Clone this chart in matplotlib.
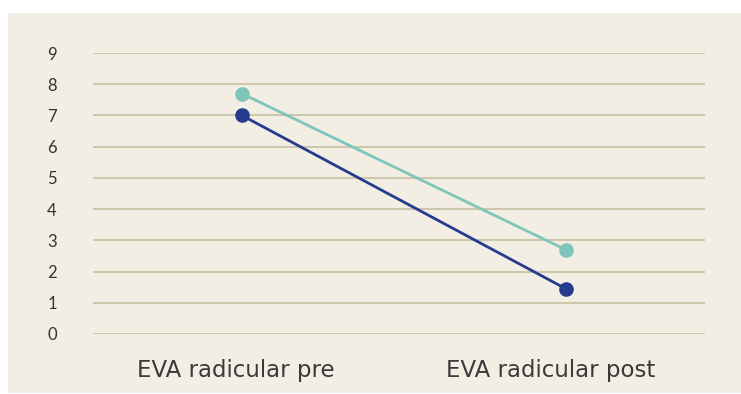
import matplotlib.pyplot as plt
import matplotlib.transforms as mtransforms
from matplotlib.patches import Rectangle

categories = ['EVA radicular pre', 'EVA radicular post']
serie_a = [7.7, 2.7]   # teal
serie_b = [7.0, 1.45]  # navy

W, H = 741, 394
fig = plt.figure(figsize=(W / 100, H / 100), dpi=100)
fig.patch.set_facecolor('white')
bg = Rectangle((8 / W, 1 / H), 1 - 8 / W, (H - 14) / H,
               transform=fig.transFigure, facecolor='#f2eee4',
               edgecolor='none', zorder=-10)
fig.add_artist(bg)

ax = fig.add_axes([93 / W, (H - 334) / H, (705 - 93) / W, (334 - 53) / H])
ax.set_facecolor('none')

x = range(len(categories))
ax.plot(x, serie_a, color='#7fc5ba', lw=2, marker='o', ms=9.5, zorder=3)
ax.plot(x, serie_b, color='#243b8e', lw=2, marker='o', ms=9.5, zorder=4)

ax.set_ylim(0, 9)
ax.set_xlim(-0.46, 1.43)
ax.set_yticks(range(10))
ax.set_xticks(list(x))
ax.set_xticklabels(categories)
ax.grid(axis='y', color='#cfc6ae', lw=1.5)
ax.set_axisbelow(True)
for s in ax.spines.values():
    s.set_visible(False)
ax.tick_params(length=0)
ax.tick_params(axis='y', pad=26, labelsize=12, labelcolor='#333333')
ax.tick_params(axis='x', pad=18, labelsize=16.5, labelcolor='#3a3a3a')
for lab in ax.get_yticklabels():
    lab.set_family('Lato')
# labels sit a little left of the points in the original
for lab, dx in zip(ax.get_xticklabels(), [-6, -15]):
    lab.set_family('DejaVu Sans')
    lab.set_transform(lab.get_transform() +
                      mtransforms.ScaledTranslation(dx / 100, 0, fig.dpi_scale_trans))

fig.savefig('out.png', dpi=100)
